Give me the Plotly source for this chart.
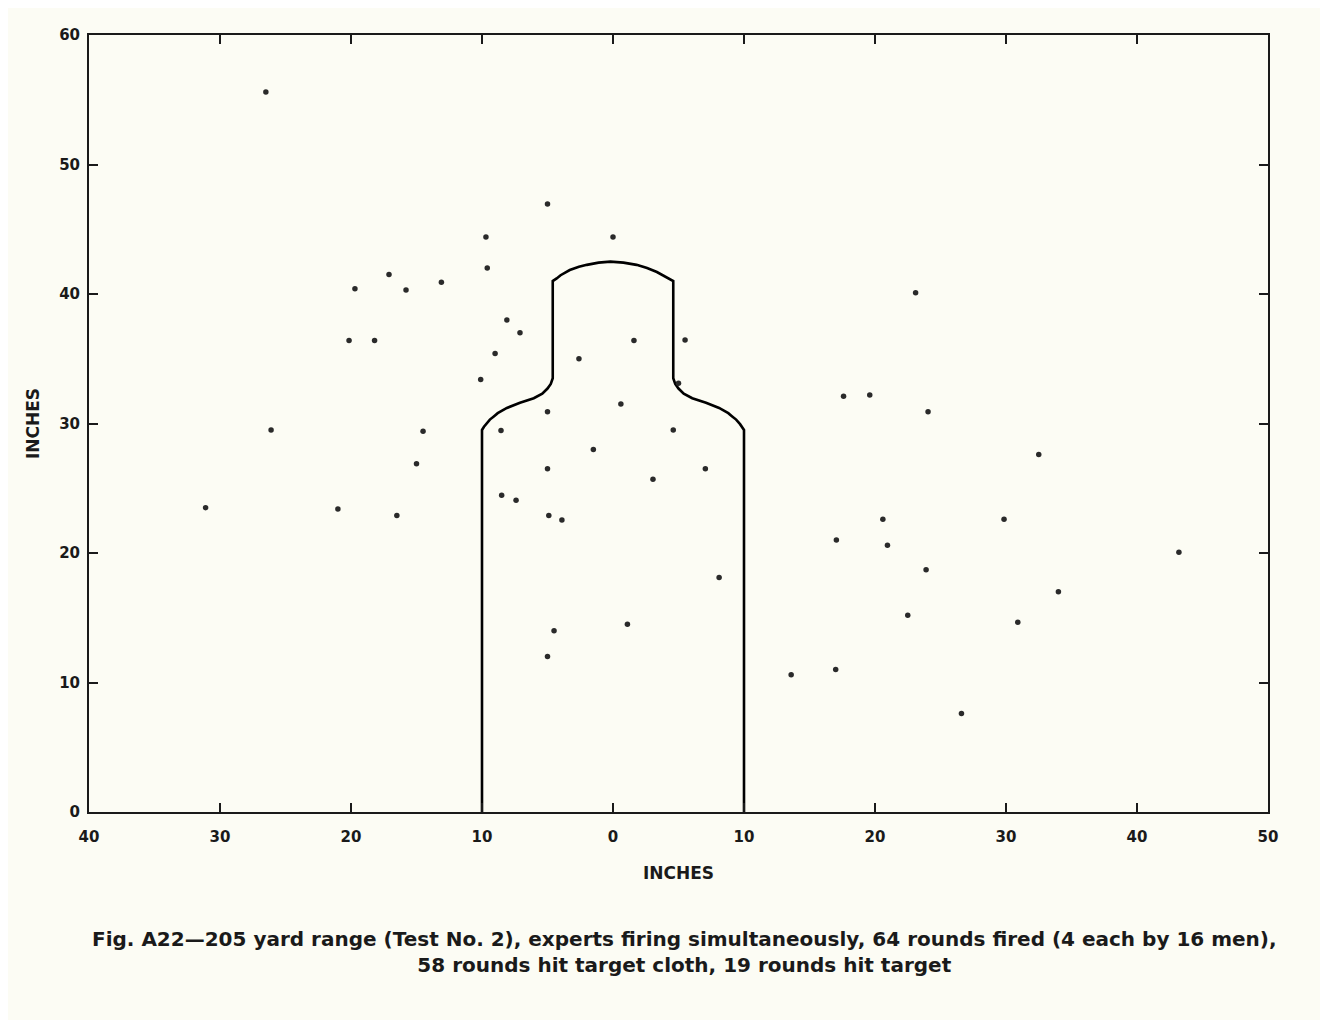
import plotly.graph_objects as go

# Hit positions (inches)
hit_x = [-26.5, -19.7, -17.1, -15.8, -13.1,
         -5.0, -9.7, 0.0, -9.6, -8.1, -7.1, -9.0, -10.1, 1.6, -2.6, 5.5, 5.0, 0.6, -5.0, -8.55,
         4.6, -1.5, -5.0, 7.05, 3.05,
         -8.5, -7.4, -4.9, -3.9, 8.1, 1.1, -4.5, -5.0,
         23.1, 17.6, 19.6, 24.05, 32.5, 20.6, 29.85, 17.05, 20.95, 43.2, 23.9, 34.0, 22.5, 30.9,
         13.6, 17.0, 26.6,
         -20.15, -18.2, -26.1, -14.5, -15.0, -31.1, -21.0, -16.5]
hit_y = [55.6, 40.4, 41.5, 40.3, 40.9,
         46.95, 44.4, 44.4, 42.0, 38.0, 37.0, 35.4, 33.4, 36.4, 35.0, 36.45, 33.1, 31.5, 30.9, 29.45,
         29.5, 28.0, 26.5, 26.5, 25.7,
         24.45, 24.07, 22.9, 22.55, 18.1, 14.5, 14.0, 12.0,
         40.1, 32.1, 32.2, 30.9, 27.6, 22.6, 22.6, 21.0, 20.6, 20.05, 18.7, 17.0, 15.2, 14.65,
         10.6, 11.0, 7.6,
         36.4, 36.4, 29.5, 29.4, 26.9, 23.5, 23.4, 22.9]

# Silhouette target outline (inches)
target_x = [-10.0, -10.0, -9.85, -9.7, -9.4, -9.1, -8.8, -8.1, -7.1, -6.05, -5.4, -5.0, -4.75, -4.6, -4.6,
            -4.3, -4.0, -3.3, -2.6, -2.0, -1.1, -0.2, 0.8, 1.8, 2.6, 3.35, 4.0, 4.3, 4.6,
            4.6, 4.75, 5.0, 5.4, 6.05, 7.1, 8.1, 8.8, 9.1, 9.4, 9.7, 9.85, 10.0, 10.0]
target_y = [0.0, 29.5, 29.75, 29.95, 30.3, 30.55, 30.8, 31.2, 31.6, 31.95, 32.3, 32.7, 33.05, 33.5, 41.0,
            41.2, 41.45, 41.85, 42.1, 42.25, 42.42, 42.5, 42.42, 42.25, 42.0, 41.7, 41.35, 41.2, 41.0,
            33.5, 33.05, 32.7, 32.3, 31.95, 31.6, 31.2, 30.8, 30.55, 30.3, 29.95, 29.75, 29.5, 0.0]

x_ticks = [-40, -30, -20, -10, 0, 10, 20, 30, 40, 50]
x_tick_labels = ["40", "30", "20", "10", "0", "10", "20", "30", "40", "50"]
y_ticks = [0, 10, 20, 30, 40, 50, 60]

bg = "#FCFCF4"
ink = "#1a1a1a"
font_family = "'DejaVu Sans', sans-serif"

fig = go.Figure()
fig.add_trace(go.Scatter(x=target_x, y=target_y, mode="lines",
                         line=dict(color="#000000", width=2.6),
                         hoverinfo="skip", showlegend=False))
fig.add_trace(go.Scatter(x=hit_x, y=hit_y, mode="markers",
                         marker=dict(color="#2a2a2a", size=5.5),
                         showlegend=False))

axis_common = dict(showgrid=False, zeroline=False, showline=True, mirror="ticks",
                   linecolor=ink, linewidth=2, ticks="inside", ticklen=9,
                   tickwidth=2, tickcolor=ink,
                   tickfont=dict(family=font_family, size=15, color=ink, weight="bold"))

fig.update_layout(
    width=1328, height=1020,
    margin=dict(l=81, r=68, t=27, b=216),
    paper_bgcolor=bg, plot_bgcolor=bg,
    xaxis=dict(range=[-40, 50], tickvals=x_ticks, ticktext=x_tick_labels,
               ticklabelstandoff=10,
               title=dict(text="INCHES", font=dict(family=font_family, size=17, color=ink, weight="bold"),
                          standoff=22),
               **axis_common),
    yaxis=dict(range=[0, 60], tickvals=y_ticks, ticklabelstandoff=4,
               title=dict(text="INCHES", font=dict(family=font_family, size=17, color=ink, weight="bold"),
                          standoff=15),
               **axis_common),
)

fig.add_annotation(
    xref="paper", yref="paper", x=0.505, y=-0.145, yanchor="top", xanchor="center",
    showarrow=False, align="center",
    text="Fig. A22\u2014205 yard range (Test No. 2), experts firing simultaneously, 64 rounds fired (4 each by 16 men),<br>"
         "58 rounds hit target cloth, 19 rounds hit target",
    font=dict(family=font_family, size=20, color=ink, weight="bold"),
)

fig.write_html("out.html")
